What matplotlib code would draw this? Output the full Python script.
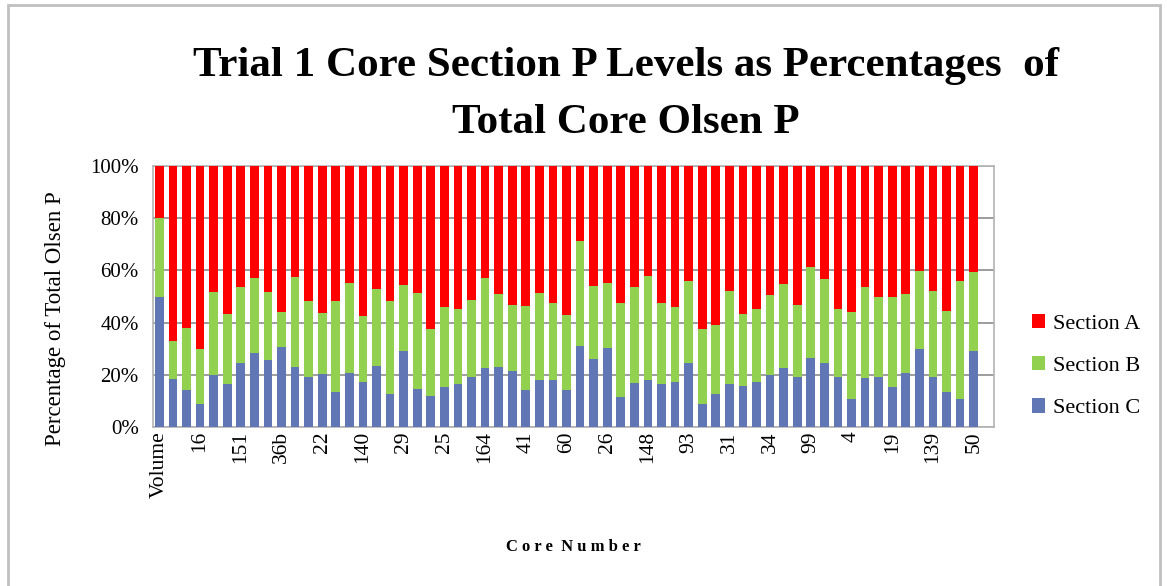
import matplotlib
matplotlib.use("Agg")
import matplotlib.pyplot as plt
import numpy as np

# percent of total core Olsen P, one value per core (last slot is empty in the source sheet)
section_c = [50.0, 18.3, 14.0, 8.7, 19.8, 16.6, 24.6, 28.5, 25.5, 30.8,
             22.9, 19.2, 20.2, 13.3, 20.6, 17.2, 23.2, 12.6, 29.2, 14.7,
             12.0, 15.2, 16.5, 19.2, 22.5, 22.9, 21.3, 14.3, 18.0, 18.0,
             14.0, 31.2, 25.9, 30.1, 11.6, 16.7, 18.0, 16.5, 17.2, 24.6,
             8.7, 12.6, 16.5, 15.8, 17.2, 19.8, 22.5, 19.2, 26.4, 24.5,
             19.2, 10.7, 18.8, 19.2, 15.2, 20.8, 29.8, 19.3, 13.5, 10.6,
             29.1, 0.0]
section_b = [30.0, 14.8, 24.1, 21.3, 32.1, 26.7, 29.0, 28.6, 26.1, 13.4,
             34.6, 29.1, 23.4, 34.8, 34.4, 25.2, 29.7, 35.5, 25.1, 36.8,
             25.4, 30.8, 28.6, 29.5, 34.5, 28.1, 25.3, 31.9, 33.2, 29.5,
             28.9, 40.2, 28.1, 25.1, 35.8, 36.8, 39.9, 31.1, 28.9, 31.5,
             28.7, 26.5, 35.6, 27.5, 27.9, 30.9, 32.2, 27.4, 34.8, 32.1,
             26.0, 33.5, 34.8, 30.7, 34.7, 30.3, 30.0, 32.8, 30.8, 45.2,
             30.4, 0.0]
filled = [True] * 61 + [False]
section_a = [100.0 - b - c if f else 0.0 for b, c, f in zip(section_b, section_c, filled)]

# only every third core number is printed on the axis
shown_labels = ["Volume", "16", "151", "36b", "22", "140", "29", "25", "164", "41",
                "60", "26", "148", "93", "31", "34", "99", "4", "19", "139", "50"]

col_a = "#FF0000"
col_b = "#92D050"
col_c = "#6076B5"
serif = "Liberation Serif"

fig = plt.figure(figsize=(11.67, 5.86), dpi=100)
ax = fig.add_axes([0.1307, 0.2713, 0.7211, 0.4454])

x = np.arange(len(section_c))
c = np.array(section_c) / 100
b = np.array(section_b) / 100
a = np.array(section_a) / 100
w = 0.64
pc = ax.bar(x, c, w, color=col_c, zorder=3, label="Section C")
pb = ax.bar(x, b, w, bottom=c, color=col_b, zorder=3, label="Section B")
pa = ax.bar(x, a, w, bottom=c + b, color=col_a, zorder=3, label="Section A")

ax.set_xlim(-0.5, len(x) - 0.5)
ax.set_ylim(0, 1)
ax.set_yticks(np.arange(0, 1.01, 0.2))
ax.set_yticklabels([f"{int(round(v * 100))}%" for v in np.arange(0, 1.01, 0.2)],
                   fontfamily=serif, fontsize=15)
ax.set_xticks(np.arange(0, 61, 3))
ax.set_xticklabels(shown_labels, rotation=90, fontfamily=serif, fontsize=15.5)
ax.tick_params(axis="y", length=0, pad=10)
ax.tick_params(axis="x", length=0, pad=3)
ax.yaxis.grid(True, color="#8c8c8c", linewidth=1.2, zorder=0)
for s in ax.spines.values():
    s.set_color("#b4b4b4")
    s.set_linewidth(1.2)

fig.text(56 / 1167, 0.457, "Percentage of Total Olsen P", rotation=90, ha="center",
         va="center", fontfamily=serif, fontsize=16.5)
fig.text(0.491, 0.066, "C o r e  N u m b e r", ha="center", va="center",
         fontfamily=serif, fontsize=12, fontweight="bold")

fig.text(0.536, 0.887, "Trial 1 Core Section P Levels as Percentages  of",
         ha="center", va="center", fontfamily=serif, fontsize=31, fontweight="bold")
fig.text(0.536, 0.79, "Total Core Olsen P",
         ha="center", va="center", fontfamily=serif, fontsize=31, fontweight="bold")

leg = fig.legend([pa, pb, pc], ["Section A", "Section B", "Section C"],
                 loc="center left", bbox_to_anchor=(0.867, 0.375), frameon=False,
                 prop={"family": serif, "size": 16}, handlelength=0.6, handleheight=0.6,
                 handletextpad=0.35, labelspacing=1.0)

border = plt.Rectangle((8 / 1167, -0.05), 1152 / 1167, 1.0414, transform=fig.transFigure,
                       fill=False, edgecolor="#c0c0c0", linewidth=2)
fig.patches.append(border)

fig.savefig("out.png", dpi=100)
